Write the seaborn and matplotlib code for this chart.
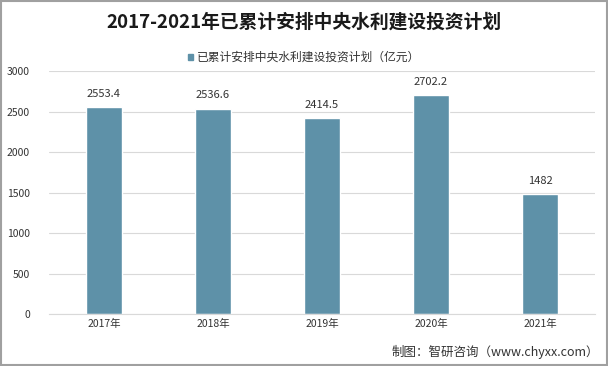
import matplotlib.pyplot as plt
import seaborn as sns
import pandas as pd
from matplotlib.patches import Rectangle

years = ['2017年', '2018年', '2019年', '2020年', '2021年']
values = [2553.4, 2536.6, 2414.5, 2702.2, 1482]
value_labels = ['2553.4', '2536.6', '2414.5', '2702.2', '1482']
series_name = '已累计安排中央水利建设投资计划（亿元）'

sns.set_style('white')
plt.rcParams['font.family'] = ['Noto Sans CJK SC', 'DejaVu Sans']

df = pd.DataFrame({'year': years, 'value': values})
color = '#5E91A8'

fig = plt.figure(figsize=(6.08, 3.66), dpi=100)
ax = fig.add_axes([0.0814, 0.142, 0.8964, 0.664])
sns.barplot(data=df, x='year', y='value', color=color, width=0.33, saturation=1, ax=ax)

ax.set_ylim(0, 3000)
ax.set_yticks(range(0, 3001, 500))
ax.yaxis.grid(True, color='#D9D9D9', linewidth=0.8)
ax.set_axisbelow(True)
for s in ['top', 'right', 'left']:
    ax.spines[s].set_visible(False)
ax.spines['bottom'].set_color('#D9D9D9')
ax.tick_params(axis='both', length=0, labelsize=7.5, colors='#333333')
ax.tick_params(axis='y', pad=14)
ax.set_xlabel('')
ax.set_ylabel('')

for i, (v, lab) in enumerate(zip(values, value_labels)):
    ax.text(i, v + 100, lab, ha='center', va='bottom', fontsize=8, color='#333333')

fig.text(0.5, 0.94, '2017-2021年已累计安排中央水利建设投资计划', ha='center', va='center',
         fontsize=13.5, fontweight='bold', color='#1a1a1a')
fig.patches.append(Rectangle((0.309, 0.835), 0.009, 0.018, transform=fig.transFigure,
                             color=color, figure=fig))
fig.text(0.324, 0.845, series_name, ha='left', va='center', fontsize=8.5, color='#333333')
fig.text(0.985, 0.038, '制图：智研咨询（www.chyxx.com）', ha='right', va='center',
         fontsize=9, color='#333333')

fig.patches.append(Rectangle((0.001, 0.002), 0.997, 0.995, transform=fig.transFigure,
                             fill=False, edgecolor='#A0A0A0', linewidth=1.5, figure=fig))

fig.savefig('out.png', dpi=100)
